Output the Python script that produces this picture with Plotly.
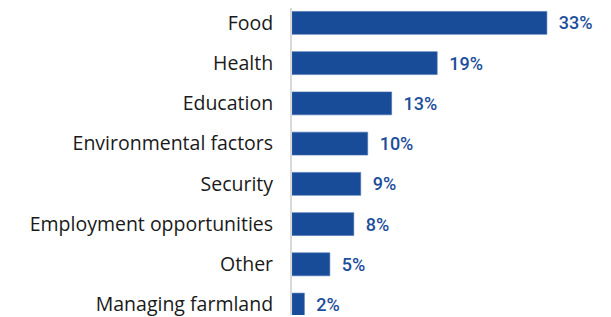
import plotly.graph_objects as go

categories = ["Food", "Health", "Education", "Environmental factors", "Security",
              "Employment opportunities", "Other", "Managing farmland"]
values = [33.0, 18.8, 12.9, 9.8, 8.9, 8.0, 4.9, 1.6]
labels = ["33%", "19%", "13%", "10%", "9%", "8%", "5%", "2%"]

fig = go.Figure(go.Bar(
    x=values, y=categories, orientation="h",
    marker=dict(color="#184b98", line=dict(color="#4a72b0", width=0.6)),
    text=["\u00a0\u00a0" + t for t in labels], textposition="outside", cliponaxis=False,
    textfont=dict(family="Roboto", size=18, color="#1d4e9a", weight=500),
    width=0.57,
))

fig.update_layout(
    width=603, height=309,
    margin=dict(l=284, r=0, t=0, b=0),
    paper_bgcolor="white", plot_bgcolor="white",
    showlegend=False,
    xaxis=dict(range=[0, 41.3], visible=False),
    yaxis=dict(
        categoryorder="array", categoryarray=categories,
        range=[7.259, -0.370],
        showline=True, linecolor="#d9d9d9", linewidth=2,
        showgrid=False, zeroline=False,
        ticks="", ticklabelstandoff=13,
        tickfont=dict(family="Open Sans", size=19.5, color="#1a1a1a"),
    ),
)

fig.write_html("out.html")
